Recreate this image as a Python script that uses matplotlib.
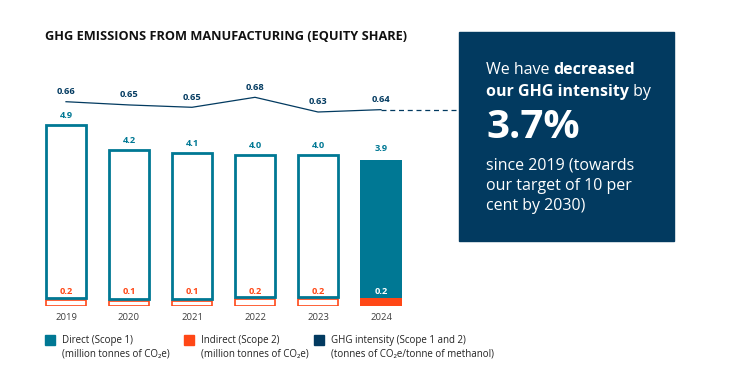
import matplotlib.pyplot as plt
from matplotlib.patches import Rectangle

plt.rcParams['font.family'] = ['Open Sans', 'DejaVu Sans']

# data
years = ['2019', '2020', '2021', '2022', '2023', '2024']
direct = [4.92, 4.24, 4.16, 4.04, 4.04, 3.94]
indirect = [0.18, 0.14, 0.14, 0.2, 0.2, 0.22]
direct_lbl = ['4.9', '4.2', '4.1', '4.0', '4.0', '3.9']
indirect_lbl = ['0.2', '0.1', '0.1', '0.2', '0.2', '0.2']
intensity = [0.665, 0.654, 0.646, 0.680, 0.630, 0.638]
intensity_lbl = ['0.66', '0.65', '0.65', '0.68', '0.63', '0.64']

TEAL = '#007894'
ORANGE = '#FF4716'
NAVY = '#023A60'
W, H = 741, 389

fig = plt.figure(figsize=(W / 100, H / 100), dpi=100)

# main axes in pixel units: x=0 at 66px, 63px per category; y=0 at 306px from top
px_x = 63.0
px_y = 35.1
left, right = 34.5, 460
bottom, top = H - 306, H - 20
ax = fig.add_axes([left / W, bottom / H, (right - left) / W, (top - bottom) / H])
ax.set_xlim(-(66 - left) / px_x, (right - 66) / px_x)
ax.set_ylim(0, (top - bottom) / px_y)
for s in ax.spines.values():
    s.set_visible(False)

x = range(len(years))
bw = 0.64
for i in x:
    if i < len(years) - 1:
        ax.bar(i, indirect[i], bw, color='white', edgecolor=ORANGE, linewidth=1.2)
        ax.bar(i, direct[i], bw, bottom=indirect[i] + 0.06, color='white',
               edgecolor=TEAL, linewidth=2.0)
        c = ORANGE
    else:
        ax.bar(i, indirect[i], bw + 0.02, color=ORANGE, linewidth=0)
        ax.bar(i, direct[i], bw + 0.02, bottom=indirect[i], color=TEAL, linewidth=0)
        c = 'white'
    ax.annotate(direct_lbl[i], (i, direct[i] + indirect[i]), xytext=(0, 5),
                textcoords='offset points', ha='center', va='bottom',
                fontsize=6.7, fontweight='bold', color=TEAL)
    ax.text(i, 0.42, indirect_lbl[i], ha='center', va='center',
            fontsize=6.7, fontweight='bold', color=c)

ax.set_xticks(list(x))
ax.set_xticklabels(years)
ax.tick_params(axis='x', length=0, pad=5, labelsize=6.8, labelcolor='#404040')
ax.set_yticks([])

# intensity line on a twin axis
ax2 = ax.twinx()
px_y2 = 294.0
lo = 0.68 - (306 - 97.3) / px_y2
ax2.set_ylim(lo, lo + (top - bottom) / px_y2)
for s in ax2.spines.values():
    s.set_visible(False)
ax2.set_yticks([])
ax2.plot(list(x), intensity, color=NAVY, linewidth=0.9)
ax2.plot([len(years) - 1, ax.get_xlim()[1]], [intensity[-1], intensity[-1]],
         color=NAVY, linewidth=0.9, linestyle=(0, (4, 3)))
for i in x:
    ax2.annotate(intensity_lbl[i], (i, intensity[i]), xytext=(0, 4),
                 textcoords='offset points', ha='center', va='bottom',
                 fontsize=6.7, fontweight='bold', color=NAVY)

# title
fig.text(45 / W, 1 - 37 / H, 'GHG EMISSIONS FROM MANUFACTURING (EQUITY SHARE)',
         fontsize=9.2, fontweight='bold', color='#111111', va='center')

# callout box
fig.patches.append(Rectangle((459 / W, 1 - 241 / H), 215 / W, 209 / H,
                             transform=fig.transFigure, color=NAVY, zorder=0))
fig.canvas.draw()
rend = fig.canvas.get_renderer()


def runs(y, parts, size):
    xpos = 486
    for txt, wt in parts:
        t = fig.text(xpos / W, 1 - y / H, txt, fontsize=size, fontweight=wt,
                     color='white', va='center')
        xpos = t.get_window_extent(rend).x1


runs(70, [('We have ', 'normal'), ('decreased', 'bold')], 11.5)
runs(92, [('our GHG intensity', 'bold'), (' by', 'normal')], 11.5)
runs(128, [('3.7%', 'bold')], 29)
runs(166, [('since 2019 (towards', 'normal')], 11.5)
runs(186, [('our target of 10 per', 'normal')], 11.5)
runs(206, [('cent by 2030)', 'normal')], 11.5)

# legend
legend = [(45, TEAL, 'Direct (Scope 1)', '(million tonnes of CO₂e)'),
          (184, ORANGE, 'Indirect (Scope 2)', '(million tonnes of CO₂e)'),
          (314, NAVY, 'GHG intensity (Scope 1 and 2)',
           '(tonnes of CO₂e/tonne of methanol)')]
for lx, col, l1, l2 in legend:
    fig.patches.append(Rectangle((lx / W, 1 - 345 / H), 10 / W, 10 / H,
                                 transform=fig.transFigure, color=col))
    fig.text((lx + 17) / W, 1 - 340 / H, l1, fontsize=7, color='#222222', va='center')
    fig.text((lx + 17) / W, 1 - 354 / H, l2, fontsize=7, color='#222222', va='center')

fig.savefig('out.png', dpi=100)
